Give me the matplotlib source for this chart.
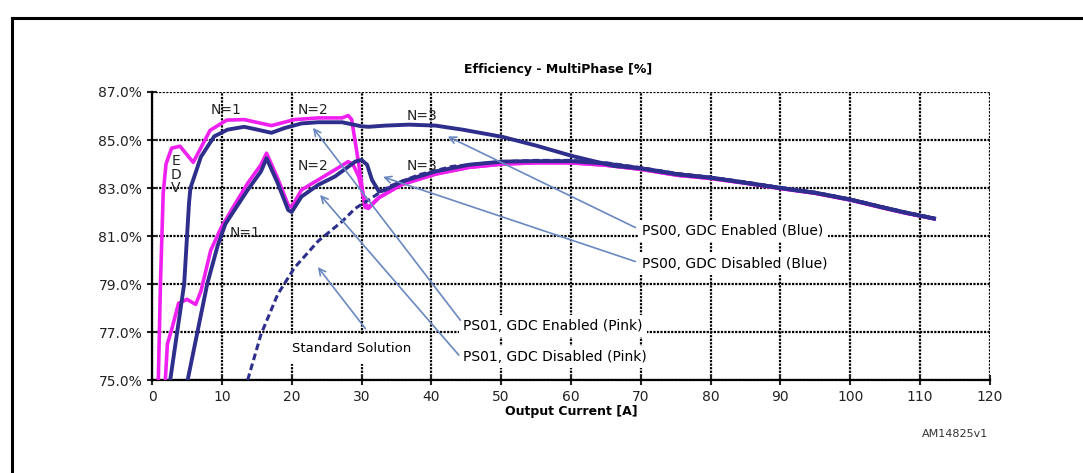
import matplotlib
matplotlib.use("Agg")
import matplotlib.pyplot as plt
from matplotlib.lines import Line2D

# PS00, GDC Enabled (top blue)
ps00_en_x = [2.6, 3.6, 4.6, 5.3, 5.5, 7.0, 8.9, 10.8, 13.2, 15.1, 17.1, 19.0, 21.4, 23.8, 27.2,
             30.0, 31.0, 33.4, 36.8, 40.6, 44.5, 50.2, 55.1, 60.1, 64.1, 66.2, 70, 75.3, 80, 85,
             90, 95, 100, 105, 108, 112]
ps00_en_y = [75.0, 77.0, 79.0, 82.4, 83.0, 84.3, 85.15, 85.43, 85.55, 85.43, 85.3, 85.5, 85.69, 85.74, 85.74,
             85.57, 85.55, 85.6, 85.64, 85.6, 85.43, 85.13, 84.76, 84.34, 84.06, 83.92, 83.82, 83.57, 83.43, 83.22,
             83.0, 82.8, 82.52, 82.17, 81.97, 81.73]

# PS00, GDC Disabled (lower blue)
ps00_dis_x = [5.1, 6.5, 7.9, 9.4, 10.5, 11.8, 13.7, 15.6, 16.4, 18.0, 19.5, 20.0, 21.4, 23.8, 26.2,
              29.1, 30.0, 30.8, 31.5, 32.5, 33.4, 35.8, 40.6, 45.4, 50.2, 55, 60, 65, 70, 75.3,
              80, 85, 90, 95, 100, 105, 108, 112]
ps00_dis_y = [75.0, 77.0, 79.0, 80.6, 81.5, 82.08, 82.92, 83.69, 84.24, 83.2, 82.08, 82.0, 82.64, 83.13, 83.48,
              84.1, 84.17, 83.97, 83.34, 82.85, 82.92, 83.27, 83.69, 83.97, 84.1, 84.12, 84.12, 84.02, 83.82, 83.57,
              83.43, 83.22, 83.0, 82.8, 82.52, 82.17, 81.97, 81.73]

# PS01, GDC Enabled (top pink)
ps01_en_x = [0.9, 1.2, 1.6, 2.0, 2.8, 4.0, 5.9, 8.3, 10.7, 13.2, 17.1, 20.4, 23.8, 27.2, 28.1,
             28.6, 29.6, 30.5, 31.0, 32.5, 35.8, 40.6, 45.4, 50.2, 55, 60, 65, 70, 75.3, 80,
             85, 90, 95, 100, 105, 108, 112]
ps01_en_y = [75.0, 79.0, 82.8, 84.0, 84.66, 84.74, 84.07, 85.4, 85.83, 85.85, 85.6, 85.85, 85.92, 85.92, 86.02,
             85.85, 84.0, 82.2, 82.15, 82.6, 83.15, 83.58, 83.86, 84.0, 84.05, 84.05, 83.95, 83.78, 83.53, 83.4,
             83.2, 82.98, 82.78, 82.5, 82.15, 81.95, 81.72]

# PS01, GDC Disabled (lower pink)
ps01_dis_x = [1.9, 2.2, 2.9, 3.8, 5.0, 6.25, 7.0, 8.4, 9.9, 11.8, 13.7, 15.6, 16.4, 18.0, 19.5,
              20.0, 21.4, 23.8, 26.2, 28.1, 28.8, 29.6, 30.5, 31.0, 32.5, 35.8, 40.6, 45.4, 50.2, 55,
              60, 65, 70, 75.3, 80, 85, 90, 95, 100, 105, 108, 112]
ps01_dis_y = [75.0, 76.5, 77.2, 78.2, 78.36, 78.15, 78.7, 80.4, 81.35, 82.29, 83.2, 83.97, 84.45, 83.4, 82.29,
              82.2, 82.92, 83.34, 83.76, 84.1, 83.97, 83.48, 82.36, 82.2, 82.6, 83.15, 83.58, 83.86, 84.0, 84.05,
              84.05, 83.95, 83.78, 83.53, 83.4, 83.2, 82.98, 82.78, 82.5, 82.15, 81.95, 81.72]

# Standard solution (dashed blue)
std_x = [13.7, 15.6, 18.0, 20.4, 23.8, 27.2, 29.1, 31.0, 33.9, 38.2, 43.0, 50.2, 55, 60, 65,
         70, 75.3, 80, 85, 90, 95, 100, 105, 108, 112]
std_y = [75.0, 76.9, 78.57, 79.68, 80.79, 81.6, 82.15, 82.5, 83.06, 83.55, 83.9, 84.1, 84.15, 84.15, 84.05,
         83.85, 83.6, 83.45, 83.25, 83.02, 82.82, 82.54, 82.19, 81.99, 81.75]

x_ticks = list(range(0, 121, 10))
y_ticks = [75, 77, 79, 81, 83, 85, 87]

PINK = "#f020f0"
BLUE = "#2e2e8c"
ARROW = "#6a88c0"

fig = plt.figure(figsize=(10.83, 4.73), dpi=100)
ax = fig.add_axes([0.1404, 0.1966, 0.7736, 0.6089])

ax.set_xlim(0, 120)
ax.set_ylim(75, 87)
ax.set_xticks(x_ticks)
ax.set_yticks(y_ticks)
ax.set_yticklabels([f"{v:.1f}%" for v in y_ticks])
ax.tick_params(direction="inout", length=7, width=1.5, labelsize=10, colors="#222222")
ax.grid(True, color="black", linestyle=(0, (1, 0.6)), linewidth=1.6)
ax.set_axisbelow(True)
for s in ["top", "right"]:
    ax.spines[s].set_visible(False)
for s in ["left", "bottom"]:
    ax.spines[s].set_linewidth(1.6)

ax.plot(ps01_en_x, ps01_en_y, color=PINK, lw=2.6, zorder=4)
ax.plot(ps01_dis_x, ps01_dis_y, color=PINK, lw=2.6, zorder=4)
ax.plot(ps00_en_x, ps00_en_y, color=BLUE, lw=2.8, zorder=5)
ax.plot(ps00_dis_x, ps00_dis_y, color=BLUE, lw=2.8, zorder=5)
ax.plot(std_x, std_y, color=BLUE, lw=2.2, ls=(0, (2.2, 1.2)), zorder=6)

ax.set_title("Efficiency - MultiPhase [%]", fontsize=9, fontweight="bold", pad=14, x=0.485)
ax.set_xlabel("Output Current [A]", fontsize=9, fontweight="bold", labelpad=1)

# labels with arrows
box = dict(facecolor="white", edgecolor="none", pad=3)
labels = [
    ("PS00, GDC Enabled (Blue)", (70.2, 81.2), (69.6, 81.3), (42.0, 85.2)),
    ("PS00, GDC Disabled (Blue)", (70.2, 79.85), (69.6, 79.9), (32.7, 83.5)),
    ("PS01, GDC Enabled (Pink)", (44.6, 77.25), (44.4, 77.4), (22.8, 85.6)),
    ("PS01, GDC Disabled (Pink)", (44.6, 75.95), (44.2, 75.95), (23.8, 82.8)),
]
for txt, tpos, tail, head in labels:
    ax.text(tpos[0], tpos[1], txt, fontsize=10, va="center", ha="left", bbox=box, zorder=3)
    ax.annotate("", xy=head, xytext=tail,
                arrowprops=dict(arrowstyle="->", color=ARROW, lw=1.2, mutation_scale=12), zorder=7)

ax.text(20.0, 76.3, "Standard Solution", fontsize=9.5, va="center", ha="left",
        bbox=dict(facecolor="white", edgecolor="none", pad=6), zorder=3)
ax.annotate("", xy=(23.5, 79.8), xytext=(30.8, 77.05),
            arrowprops=dict(arrowstyle="->", color=ARROW, lw=1.2, mutation_scale=12), zorder=7)

for txt, x, y in [("N=1", 8.4, 86.27), ("N=2", 20.9, 86.27), ("N=3", 36.5, 86.0),
                  ("N=2", 20.9, 83.9), ("N=3", 36.5, 83.9), ("N=1", 11.1, 81.14)]:
    ax.text(x, y, txt, fontsize=10, va="center", ha="left", color="#222222", zorder=8)
ax.text(3.4, 83.55, "E\nD\nV", fontsize=10, va="center", ha="center", linespacing=0.95,
        color="#222222", zorder=3)

fig.text(0.882, 0.082, "AM14825v1", fontsize=8, ha="center", va="center", color="#333333")

# outer frame
fig.add_artist(Line2D([12 / 1083, 12 / 1083], [0, 1 - 18 / 473], color="black", lw=2.2))
fig.add_artist(Line2D([12 / 1083, 1], [1 - 18 / 473, 1 - 18 / 473], color="black", lw=2.2))

plt.savefig("out.png", dpi=100)
